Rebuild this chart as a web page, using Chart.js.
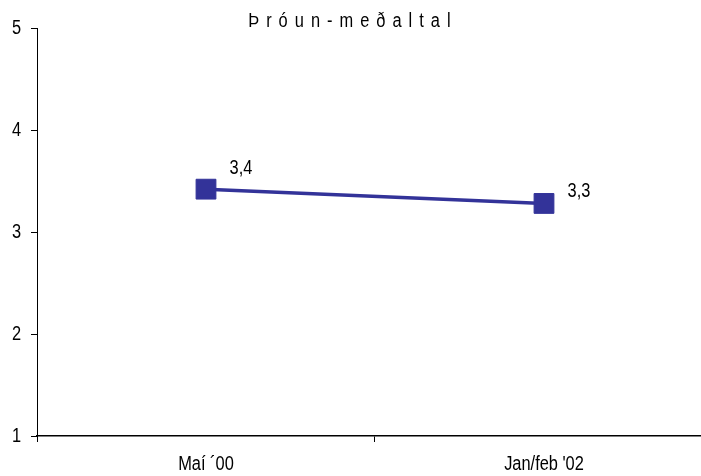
<!DOCTYPE html>
<html>
<head>
<meta charset="utf-8">
<script src="https://cdn.jsdelivr.net/npm/chart.js@4/dist/chart.umd.min.js"></script>
<style>
  html, body { margin: 0; padding: 0; background: #fff; overflow: hidden; }
  #wrap { width: 701px; height: 476px; }
  canvas { display: block; }
</style>
</head>
<body>
<div id="wrap"><canvas id="c"></canvas></div>
<script>
// gögn
const categories = ['Maí ´00', "Jan/feb '02"];
const values = [3.42, 3.28];
const yTicks = [1, 2, 3, 4, 5];
const xBounds = [-0.5, 0.5]; // flokkaskil á x-ás
const title = 'Þ r ó u n - m e ð a l t a l';

const FONT = '"Liberation Sans", Arial, sans-serif';
const NARROW = 0.82; // þjappað letur (Arial Narrow útlit)
const labelOffsets = [[35, -21], [35, -12]];

// skrifar texta lárétt þjappaðan
function narrowText(ctx, txt, x, y, align) {
  ctx.save();
  ctx.translate(x, y);
  ctx.scale(NARROW, 1);
  ctx.textAlign = align;
  ctx.fillText(txt, 0, 0);
  ctx.restore();
}

// titill, ásmerki og gildi við punkta
const textPlugin = {
  id: 'texts',
  afterDraw(chart) {
    const ctx = chart.ctx;
    ctx.save();
    ctx.fillStyle = '#000';
    ctx.font = '20px ' + FONT;
    ctx.textBaseline = 'middle';
    ctx.letterSpacing = '1.5px';
    narrowText(ctx, title, 350, 21, 'center');
    ctx.letterSpacing = '0px';

    const y = chart.scales.y;
    yTicks.forEach(v => narrowText(ctx, String(v), 21, y.getPixelForValue(v), 'right'));

    const x = chart.scales.x;
    categories.forEach((c, i) => narrowText(ctx, c, x.getPixelForValue(i), 464, 'center'));

    const meta = chart.getDatasetMeta(0);
    meta.data.forEach((pt, i) => {
      const txt = values[i].toFixed(1).replace('.', ',');
      narrowText(ctx, txt, pt.x + labelOffsets[i][0], pt.y + labelOffsets[i][1], 'center');
    });
    ctx.restore();
  }
};

new Chart(document.getElementById('c'), {
  type: 'line',
  data: {
    datasets: [{
      data: values.map((v, i) => ({ x: i, y: v })),
      borderColor: '#333399',
      backgroundColor: '#333399',
      borderWidth: 3.5,
      pointStyle: 'rect',
      pointRadius: 14,
      pointBorderWidth: 1,
      pointBackgroundColor: '#333399',
      pointBorderColor: '#333399',
      tension: 0
    }]
  },
  options: {
    responsive: true,
    maintainAspectRatio: false,
    animation: false,
    events: [],
    layout: { autoPadding: false, padding: { top: 28, right: 0, left: 0, bottom: 0 } },
    plugins: { legend: { display: false }, tooltip: { enabled: false } },
    scales: {
      x: {
        type: 'linear',
        // síðasti flokkurinn nær út fyrir hægri brún eins og í frumritinu
        min: -0.5,
        max: 1.4645,
        afterBuildTicks(scale) { scale.ticks = xBounds.map(v => ({ value: v })); },
        grid: { drawOnChartArea: false, tickLength: 6, color: '#000', lineWidth: 1 },
        border: { color: '#000', width: 1.5 },
        ticks: { display: false },
        afterFit(scale) { scale.height = 40; }
      },
      y: {
        min: yTicks[0],
        max: yTicks[yTicks.length - 1],
        afterBuildTicks(scale) { scale.ticks = yTicks.map(v => ({ value: v })); },
        grid: { drawOnChartArea: false, tickLength: 6, color: '#000', lineWidth: 1 },
        border: { color: '#000', width: 1 },
        ticks: { display: false },
        afterFit(scale) { scale.width = 37; }
      }
    }
  },
  plugins: [textPlugin]
});
</script>
</body>
</html>
